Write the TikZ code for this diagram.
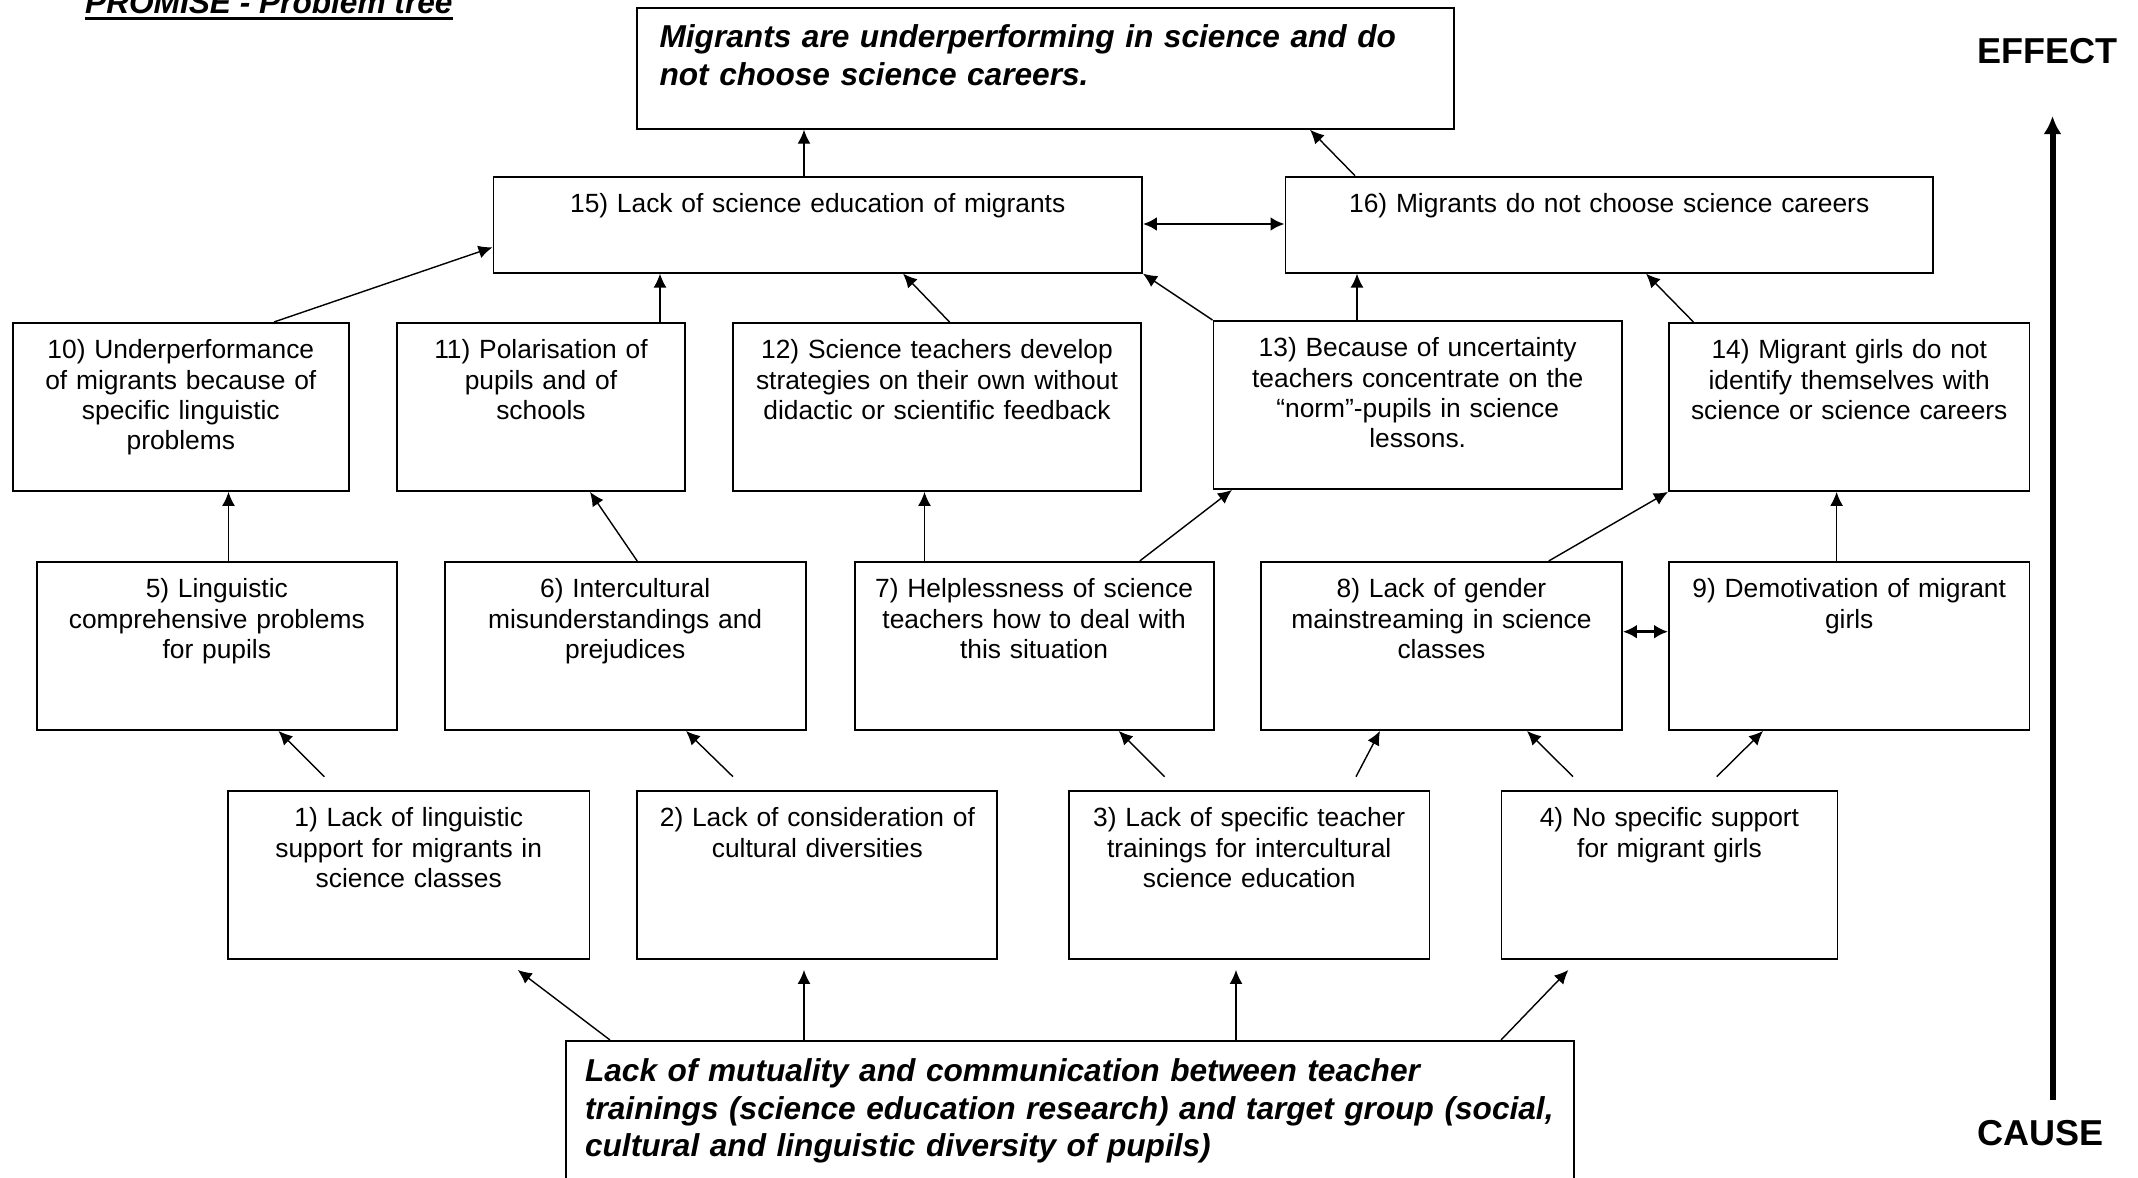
\documentclass[tikz,border=0pt]{standalone}
\usepackage{fontspec}
\setmainfont{Liberation Sans}
\usetikzlibrary{arrows.meta,calc}

\begin{document}
\begin{tikzpicture}[x=0.2mm,y=-0.2mm,
  every node/.style={inner sep=0pt},
  box/.style={draw,line width=1.1pt,anchor=north west,align=center,
    font=\fontsize{15}{17.1}\selectfont,text height=7.2mm,text depth=26.4mm},
  bar/.style={box,text depth=12mm},
  head/.style={draw,line width=1.1pt,anchor=north west,align=left,inner xsep=4.6mm,
    font=\fontsize{18}{21.3}\selectfont\bfseries\itshape},
  arr/.style={-{Latex[length=2.8mm,width=2.6mm]},line width=0.8pt},
  both/.style={{Latex[length=2.8mm,width=2.8mm]}-{Latex[length=2.8mm,width=2.8mm]},line width=1.6pt},
  big/.style={-{Latex[length=3.6mm,width=3.6mm]},line width=3.4pt}]
\useasboundingbox (0,0) rectangle (2138,1178);
\node[anchor=base west,font=\fontsize{18}{21.3}\selectfont\bfseries\itshape] (title) at (84.8,14) {PROMISE - Problem tree};
\node[anchor=base west,font=\fontsize{20.5}{24}\selectfont\bfseries] (effect) at (1977,63.3) {EFFECT};
\node[anchor=base west,font=\fontsize{20.5}{24}\selectfont\bfseries] (cause)  at (1977,1145) {CAUSE};
\node[head,text width=154.2mm,text height=7.9mm,text depth=16.2mm] (top) at (635.6,7.3)
  {Migrants are underperforming in science and do\\not choose science careers.};
\node[bar,text width=129.7mm] (b15) at (492.5,175.7)  {15) Lack of science education of migrants};
\node[bar,text width=129.5mm] (b16) at (1284.5,175.7) {16) Migrants do not choose science careers};
\node[box,text width=67.3mm]  (b10) at (11.6,322)   {10) Underperformance\\of migrants because of\\specific linguistic\\problems};
\node[box,text width=57.6mm]  (b11) at (396,322)    {11) Polarisation of\\pupils and of\\schools};
\node[box,text width=81.6mm]  (b12) at (732,322)    {12) Science teachers develop\\strategies on their own without\\didactic or scientific feedback};
\node[box,text width=81.7mm]  (b13) at (1212.5,320) {13) Because of uncertainty\\teachers concentrate on the\\“norm”-pupils in science\\lessons.};
\node[box,text width=72.1mm]  (b14) at (1668,322)   {14) Migrant girls do not\\identify themselves with\\science or science careers};
\node[box,text width=72.1mm]  (b5)  at (35.6,561)   {5) Linguistic\\comprehensive problems\\for pupils};
\node[box,text width=72.2mm]  (b6)  at (443.7,561)  {6) Intercultural\\misunderstandings and\\prejudices};
\node[box,text width=71.8mm]  (b7)  at (853.6,561)  {7) Helplessness of science\\teachers how to deal with\\this situation};
\node[box,text width=72.2mm]  (b8)  at (1260,561)   {8) Lack of gender\\mainstreaming in science\\classes};
\node[box,text width=72.1mm]  (b9)  at (1668,561)   {9) Demotivation of migrant\\girls};
\node[box,text width=72.3mm]  (b1)  at (227,790)    {1) Lack of linguistic\\support for migrants in\\science classes};
\node[box,text width=72mm]    (b2)  at (636.4,790)  {2) Lack of consideration of\\cultural diversities};
\node[box,text width=72.1mm]  (b3)  at (1068,790)   {3) Lack of specific teacher\\trainings for intercultural\\science education};
\node[box,text width=67.2mm]  (b4)  at (1500.5,790) {4) No specific support\\for migrant girls};
\node[head,inner xsep=3.9mm,text width=193.9mm,text height=8.2mm,text depth=26mm] (root) at (564.6,1040)
  {Lack of mutuality and communication between teacher\\trainings (science education research) and target group (social,\\cultural and linguistic diversity of pupils)};
\draw[line width=1.7pt] ([yshift=-0.86mm]title.base west) -- ([yshift=-0.86mm]title.base east);
\draw[big]  ($(cause.north -| 2052.5,0)+(0,-20)$) -- ($(effect.south -| 2052.5,0)+(0,52)$);
\draw[arr]  (b15.north -| 804,0)     -- (top.south -| 804,0);
\draw[arr]  (b16.north -| 1355,0)    -- (top.south -| 1310,0);
\draw[both] (b15.east |- 0,224)      -- (b16.west |- 0,224);
\draw[arr]  (b10.north -| 274,0)     -- (b15.west |- 0,247.3);
\draw[arr]  (b11.north -| 660,0)     -- (b15.south -| 660,0);
\draw[arr]  (b12.north -| 949.5,0)   -- (b15.south -| 903,0);
\draw[arr]  (b13.north west)         -- (b15.south east);
\draw[arr]  (b13.north -| 1357,0)    -- (b16.south -| 1357,0);
\draw[arr]  (b14.north -| 1693.4,0)  -- (b16.south -| 1646,0);
\draw[arr]  (b5.north -| 228.5,0)    -- (b10.south -| 228.5,0);
\draw[arr]  (b6.north -| 637.2,0)    -- (b11.south -| 590,0);
\draw[arr]  (b7.north -| 924.5,0)    -- (b12.south -| 924.5,0);
\draw[arr]  (b7.north -| 1139.7,0)   -- (b13.south -| 1232,0);
\draw[arr]  (b8.north -| 1548.7,0)   -- (b14.south west);
\draw[arr]  (b9.north -| 1836.6,0)   -- (b14.south -| 1836.6,0);
\draw[both] (b8.east |- 0,631.7)     -- (b9.west |- 0,631.7);
\draw[arr]  ($(b1.north -| 324.4,0)+(0,-13.3)$)  -- (b5.south -| 278.5,0);
\draw[arr]  ($(b2.north -| 733,0)+(0,-13.3)$)    -- (b6.south -| 686,0);
\draw[arr]  ($(b3.north -| 1164.6,0)+(0,-13.3)$) -- (b7.south -| 1118.7,0);
\draw[arr]  ($(b3.north -| 1356,0)+(0,-13.3)$)   -- (b8.south -| 1380,0);
\draw[arr]  ($(b4.north -| 1573,0)+(0,-13.3)$)   -- (b8.south -| 1527,0);
\draw[arr]  ($(b4.north -| 1716.7,0)+(0,-13.3)$) -- (b9.south -| 1763,0);
\draw[arr]  (root.north -| 610,0)    -- ($(b1.south -| 517.7,0)+(0,10)$);
\draw[arr]  (root.north -| 804,0)    -- ($(b2.south -| 804,0)+(0,10)$);
\draw[arr]  (root.north -| 1236,0)   -- ($(b3.south -| 1236,0)+(0,10)$);
\draw[arr]  (root.north -| 1501,0)   -- ($(b4.south -| 1568.4,0)+(0,10)$);
\end{tikzpicture}
\end{document}
